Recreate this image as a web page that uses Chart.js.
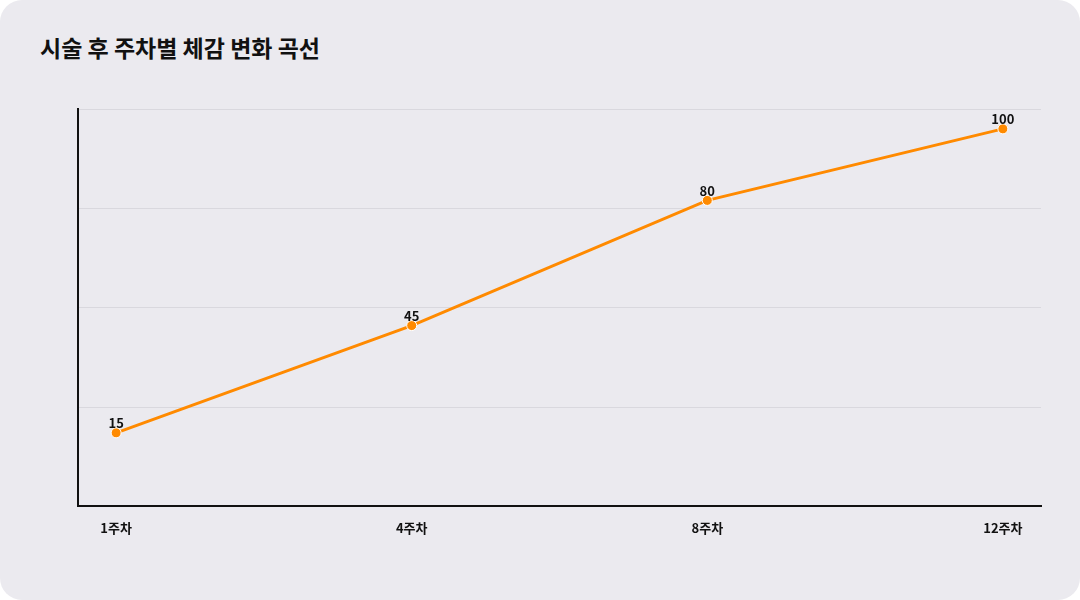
<!DOCTYPE html>
<html>
<head>
<meta charset="utf-8">
<script src="https://cdn.jsdelivr.net/npm/chart.js@4/dist/chart.umd.min.js"></script>
<style>
  html, body { margin: 0; padding: 0; background: #fff; }
  .card { position: absolute; left: 0; top: 0; width: 1080px; height: 600px; background: #ebeaef; border-radius: 22px; }
  h1 { position: absolute; left: 40px; top: 30px; margin: 0; font: bold 23px "Noto Sans CJK KR", sans-serif; color: #111; }
  .wrap { position: absolute; left: 0; top: 0; width: 1080px; height: 600px; }
</style>
</head>
<body>
<div class="card"></div>
<h1>시술 후 주차별 체감 변화 곡선</h1>
<div class="wrap"><canvas id="c" width="1080" height="600"></canvas></div>
<script>
const weeks = ['1주차', '4주차', '8주차', '12주차']
const feel = [15, 45, 80, 100]

const pointLabels = {
  id: 'pointLabels',
  afterDatasetsDraw(chart) {
    const { ctx } = chart
    ctx.save()
    ctx.font = 'bold 13px "Noto Sans CJK KR", sans-serif'
    ctx.fillStyle = '#111'
    ctx.textAlign = 'center'
    ctx.textBaseline = 'bottom'
    chart.getDatasetMeta(0).data.forEach((p, i) => {
      ctx.fillText(feel[i], p.x, p.y - 3)
    })
    ctx.restore()
  }
}

new Chart(document.getElementById('c'), {
  type: 'line',
  data: {
    datasets: [{
      data: feel.map((v, i) => ({ x: i, y: v })),
      borderColor: '#ff8a00',
      backgroundColor: '#ff8a00',
      borderWidth: 3,
      pointRadius: 5,
      pointBorderColor: '#fff',
      pointBorderWidth: 1,
      tension: 0
    }]
  },
  options: {
    responsive: false,
    animation: false,
    devicePixelRatio: 1,
    layout: { padding: { left: 78, right: 39, top: 109, bottom: 58 } },
    plugins: { legend: { display: false }, tooltip: { enabled: false } },
    scales: {
      x: {
        type: 'linear',
        min: -0.129, max: 3.129,
        afterBuildTicks: axis => { axis.ticks = weeks.map((w, i) => ({ value: i })) },
        ticks: {
          callback: v => weeks[v],
          color: '#111',
          font: { family: '"Noto Sans CJK KR", sans-serif', size: 13, weight: 'bold' },
          padding: 6
        },
        grid: { display: false },
        border: { color: '#111', width: 2 }
      },
      y: {
        min: -5.56, max: 105.56,
        afterBuildTicks: axis => { axis.ticks = [0, 1, 2, 3, 4].map(k => ({ value: -5.56 + k * 27.78 })) },
        ticks: { display: false },
        grid: { color: '#d9d8de', lineWidth: 1, drawTicks: false },
        border: { color: '#111', width: 2 }
      }
    }
  },
  plugins: [pointLabels]
})
</script>
</body>
</html>
